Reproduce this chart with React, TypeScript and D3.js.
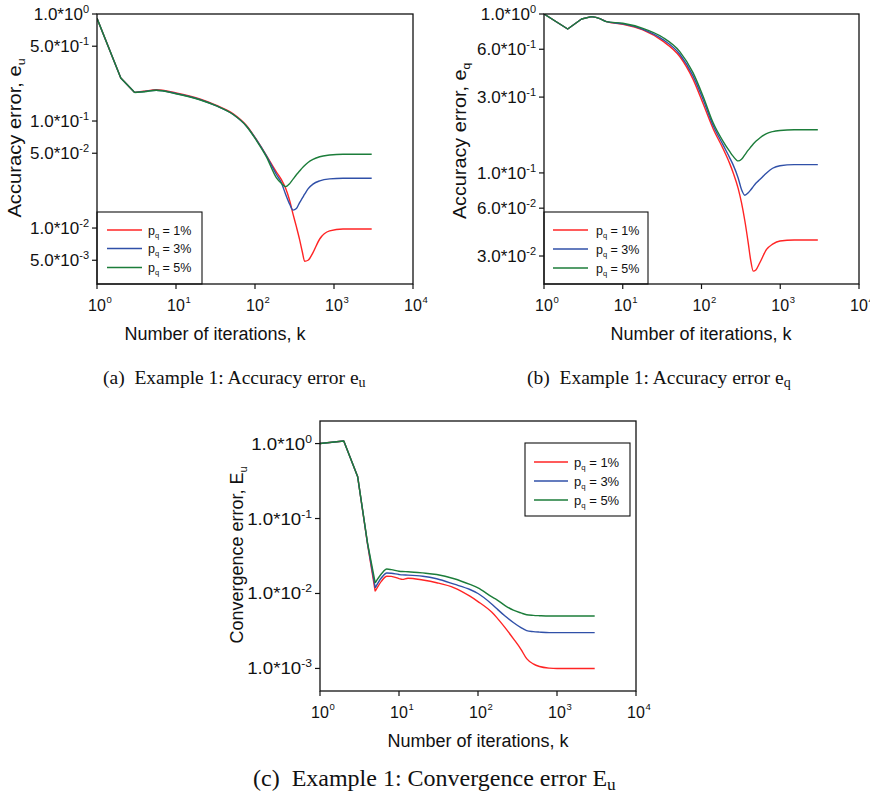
import React from 'react';
import * as d3 from 'd3';

const SANS = '"Liberation Sans", Arial, Helvetica, sans-serif';
const SERIF = '"Liberation Serif", "Times New Roman", serif';

const COLORS = ['#ff2424', '#3050a8', '#1c7d3a'];
const legendLabels = ['1%', '3%', '5%'];
const xTicks = [1, 10, 100, 1000, 10000];

// ---- Panel (a): accuracy error e_u ----
const aK = [1, 2, 3, 4, 5.6, 10, 20, 32, 53, 78, 104, 139, 186, 215, 244, 275, 303, 334, 367, 397, 425, 469, 542, 659, 881, 1300, 3000];
const aRed = [0.91, 0.252, 0.185, 0.19, 0.196, 0.183, 0.161, 0.141, 0.117, 0.091, 0.0673, 0.0478, 0.0335, 0.0285, 0.0235, 0.018, 0.0135, 0.0103, 0.0078, 0.006, 0.0049, 0.005, 0.0059, 0.0079, 0.0094, 0.0098, 0.0098];
const aBlue = [0.91, 0.252, 0.185, 0.189, 0.194, 0.181, 0.159, 0.139, 0.115, 0.0895, 0.067, 0.0475, 0.0318, 0.0266, 0.0207, 0.0167, 0.0147, 0.0152, 0.0173, 0.019, 0.0207, 0.0232, 0.0257, 0.0276, 0.0288, 0.0292, 0.0292];
const aGreen = [0.91, 0.252, 0.185, 0.188, 0.194, 0.18, 0.158, 0.139, 0.115, 0.0895, 0.066, 0.0465, 0.0296, 0.0262, 0.0244, 0.026, 0.0286, 0.0315, 0.0341, 0.0365, 0.0385, 0.041, 0.0438, 0.0464, 0.0481, 0.049, 0.049];
const aYTicks = [1, 0.5, 0.1, 0.05, 0.01, 0.005];

// ---- Panel (b): accuracy error e_q ----
const bK = [1, 2, 3, 4, 5, 6.2, 10, 18, 32, 53, 78, 105, 141, 188, 229, 253, 292, 322, 355, 392, 420, 454, 490, 550, 670, 800, 991, 1500, 3000];
const bRed = [1, 0.805, 0.93, 0.962, 0.939, 0.895, 0.862, 0.794, 0.677, 0.54, 0.389, 0.272, 0.189, 0.142, 0.114, 0.1, 0.08, 0.065, 0.05, 0.0363, 0.0285, 0.0241, 0.0245, 0.0272, 0.033, 0.0356, 0.0373, 0.0378, 0.0378];
const bBlue = [1, 0.805, 0.93, 0.962, 0.939, 0.895, 0.866, 0.801, 0.693, 0.558, 0.408, 0.289, 0.198, 0.15, 0.124, 0.112, 0.093, 0.0786, 0.0724, 0.075, 0.078, 0.082, 0.086, 0.0908, 0.1, 0.107, 0.111, 0.1128, 0.1128];
const bGreen = [1, 0.805, 0.93, 0.962, 0.939, 0.895, 0.874, 0.813, 0.714, 0.58, 0.428, 0.303, 0.206, 0.158, 0.136, 0.127, 0.119, 0.122, 0.13, 0.139, 0.145, 0.152, 0.158, 0.166, 0.177, 0.182, 0.185, 0.187, 0.187];
const bYTicks = [1, 0.6, 0.3, 0.1, 0.06, 0.03];

// ---- Panel (c): convergence error E_u ----
const cK = [1, 2, 3, 4, 5, 6, 7, 8, 10, 11, 13, 20, 30, 50, 79, 100, 150, 172, 220, 280, 350, 413, 500, 600, 800, 1000, 3000];
const cRed = [1, 1.08, 0.36, 0.045, 0.0107, 0.0146, 0.017, 0.0169, 0.0158, 0.0154, 0.016, 0.0151, 0.0139, 0.0119, 0.0092, 0.0078, 0.0056, 0.0048, 0.0035, 0.0025, 0.0018, 0.00135, 0.00115, 0.00106, 0.00101, 0.001, 0.001];
const cBlue = [1, 1.08, 0.36, 0.046, 0.0119, 0.0162, 0.0188, 0.0186, 0.0179, 0.0177, 0.0176, 0.017, 0.0157, 0.0133, 0.0113, 0.01, 0.0072, 0.0063, 0.005, 0.0041, 0.0035, 0.0032, 0.0031, 0.00305, 0.003, 0.003, 0.003];
const cGreen = [1, 1.08, 0.36, 0.047, 0.0139, 0.0183, 0.0212, 0.0208, 0.0198, 0.0196, 0.0195, 0.0188, 0.0179, 0.0157, 0.0132, 0.0119, 0.009, 0.0083, 0.0069, 0.006, 0.0055, 0.0052, 0.0051, 0.00505, 0.005, 0.005, 0.005];
const cYTicks = [1, 0.1, 0.01, 0.001];

type Legend = { x: number; y: number; w: number; h: number; lineX0: number; lineX1: number; textX: number; rows: number[]; font: number };
type PanelCfg = {
  left: number; right: number; top: number; bottom: number;
  yDomain: [number, number]; yTicks: number[]; k: number[]; series: number[][]; kinkIdx: number;
  legend: Legend;
  yTitle: string; ySub: string; yTitleX: number; yTitleCY: number; yTitleStretch: number;
  yTickSx: number; xTitleCX: number;
};

const panels: PanelCfg[] = [
  {
    left: 97, right: 413, top: 14, bottom: 284, yDomain: [0.003, 1], yTicks: aYTicks, k: aK, kinkIdx: 2,
    series: [aRed, aBlue, aGreen],
    legend: { x: 97, y: 212, w: 105, h: 72, lineX0: 107, lineX1: 142, textX: 148, rows: [230, 248.5, 267.5], font: 12.5 },
    yTitle: 'Accuracy error, e', ySub: 'u', yTitleX: 21, yTitleCY: 138, yTitleStretch: 1.12, yTickSx: 1.0, xTitleCX: 215,
  },
  {
    left: 544, right: 859, top: 14, bottom: 284, yDomain: [0.02, 1], yTicks: bYTicks, k: bK, kinkIdx: 3,
    series: [bRed, bBlue, bGreen],
    legend: { x: 544, y: 212, w: 104, h: 72, lineX0: 553, lineX1: 588, textX: 596, rows: [230, 249, 268], font: 12.5 },
    yTitle: 'Accuracy error, e', ySub: 'q', yTitleX: 466, yTitleCY: 141, yTitleStretch: 1.1, yTickSx: 1.0, xTitleCX: 701,
  },
  {
    left: 320, right: 636, top: 421, bottom: 691, yDomain: [0.0005, 2], yTicks: cYTicks, k: cK, kinkIdx: 4,
    series: [cRed, cBlue, cGreen],
    legend: { x: 525, y: 443, w: 105, h: 73, lineX0: 534, lineX1: 568, textX: 574, rows: [462, 481, 500], font: 13 },
    yTitle: 'Convergence error, E', ySub: 'u', yTitleX: 243, yTitleCY: 555, yTitleStretch: 1.0, yTickSx: 1.1, xTitleCX: 478,
  },
];

function splitTick(v: number): [string, string] {
  const e = Math.floor(Math.log10(v) + 1e-9);
  const m = v / Math.pow(10, e);
  return [m.toFixed(1) + '*10', String(e)];
}

function PanelView({ p }: { p: PanelCfg }) {
  const x = d3.scaleLog().domain([1, 10000]).range([p.left, p.right]);
  const y = d3.scaleLog().domain(p.yDomain).range([p.bottom, p.top]);
  const lin = d3.line<[number, number]>().x((d) => x(d[0])).y((d) => y(d[1]));
  const smooth = d3.line<[number, number]>().x((d) => x(d[0])).y((d) => y(d[1])).curve(d3.curveMonotoneX);
  const L = p.legend;
  const pathFor = (vals: number[]) => {
    const pts = p.k.map((k, j) => [k, vals[j]] as [number, number]);
    return (lin(pts.slice(0, p.kinkIdx + 1)) || '') + (smooth(pts.slice(p.kinkIdx)) || '');
  };
  return (
    <g>
      <defs>
        <clipPath id={`clip-${p.left}-${p.top}`}>
          <rect x={p.left} y={p.top} width={p.right - p.left} height={p.bottom - p.top} />
        </clipPath>
      </defs>
      <rect x={p.left} y={p.top} width={p.right - p.left} height={p.bottom - p.top} fill="white" stroke="none" />
      <g clipPath={`url(#clip-${p.left}-${p.top})`}>
        {p.series.map((vals, i) => (
          <path key={i} d={pathFor(vals)} fill="none" stroke={COLORS[i]} strokeWidth={1.4} strokeLinejoin="round" />
        ))}
      </g>
      {/* legend */}
      <rect x={L.x} y={L.y} width={L.w} height={L.h} fill="white" stroke="#111" strokeWidth={1.1} />
      {legendLabels.map((lab, i) => (
        <g key={lab}>
          <line x1={L.lineX0} x2={L.lineX1} y1={L.rows[i]} y2={L.rows[i]} stroke={COLORS[i]} strokeWidth={1.6} />
          <text x={L.textX} y={L.rows[i] + 4.5} fontFamily={SANS} fontSize={L.font} fill="#111">
            p<tspan fontSize={L.font * 0.6} dy={3}>q</tspan><tspan dy={-3}>{` = ${lab}`}</tspan>
          </text>
        </g>
      ))}
      {/* frame */}
      <rect x={p.left} y={p.top} width={p.right - p.left} height={p.bottom - p.top} fill="none" stroke="#111" strokeWidth={1.3} />
      {/* x ticks */}
      {xTicks.map((t, i) => (
        <g key={t}>
          <line x1={x(t)} x2={x(t)} y1={p.bottom} y2={p.bottom + 5} stroke="#111" strokeWidth={1.2} />
          <text x={x(t)} y={p.bottom + 27} textAnchor="middle" fontFamily={SANS} fontSize={16} fill="#111">10</text>
          <text x={x(t) + 9.5} y={p.bottom + 19} fontFamily={SANS} fontSize={9.5} fill="#111">{String(i)}</text>
        </g>
      ))}
      {/* y ticks */}
      {p.yTicks.map((t) => {
        const [m, e] = splitTick(t);
        return (
          <g key={t}>
            <line x1={p.left - 5} x2={p.left} y1={y(t)} y2={y(t)} stroke="#111" strokeWidth={1.2} />
            <g transform={`translate(${p.left - 8},${y(t) + 6}) scale(${p.yTickSx},1)`}>
              <text x={0} y={0} textAnchor="end" fontFamily={SANS} fontSize={17} fill="#111">
                {m}<tspan dy={-7} fontSize={11}>{e}</tspan>
              </text>
            </g>
          </g>
        );
      })}
      {/* axis titles */}
      <text x={p.xTitleCX} y={p.bottom + 56} textAnchor="middle" fontFamily={SANS} fontSize={18} fill="#111">Number of iterations, k</text>
      <g transform={`translate(${p.yTitleX},${p.yTitleCY}) rotate(-90) scale(${p.yTitleStretch},1)`}>
        <text x={0} y={0} textAnchor="middle" fontFamily={SANS} fontSize={18} fill="#111">
          {p.yTitle}<tspan dy={4} fontSize={11}>{p.ySub}</tspan>
        </text>
      </g>
    </g>
  );
}

const captions = [
  { x: 103, y: 384, size: 19.5, label: '(a)', body: 'Example 1: Accuracy error e', sub: 'u' },
  { x: 527, y: 384, size: 19.5, label: '(b)', body: 'Example 1: Accuracy error e', sub: 'q' },
  { x: 253, y: 786, size: 24, label: '(c)', body: 'Example 1: Convergence error E', sub: 'u' },
];

export default function App() {
  return (
    <svg width={870} height={800} viewBox="0 0 870 800" style={{ position: 'absolute', left: 0, top: 0, background: 'white' }}>
      <rect x={0} y={0} width={870} height={800} fill="white" />
      {panels.map((p, i) => <PanelView key={i} p={p} />)}
      {captions.map((c) => (
        <text key={c.label} x={c.x} y={c.y} fontFamily={SERIF} fontSize={c.size} fill="#111">
          {c.label}{'\u00a0\u00a0'}{c.body}<tspan dy={c.size * 0.17} fontSize={c.size * 0.72}>{c.sub}</tspan>
        </text>
      ))}
    </svg>
  );
}
